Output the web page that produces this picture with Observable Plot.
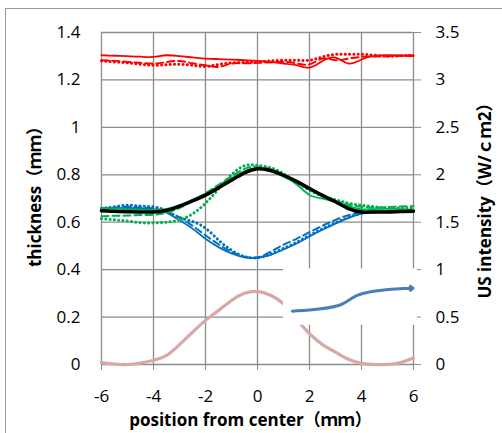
<!DOCTYPE html>
<html><head><meta charset="utf-8">
<script src="https://cdn.jsdelivr.net/npm/d3@7"></script>
<script src="https://cdn.jsdelivr.net/npm/@observablehq/plot@0.6"></script>
<style>
html,body{margin:0;padding:0;background:#fff;overflow:hidden;}
#wrap{position:relative;width:502px;height:433px;overflow:hidden;}
#frame{position:absolute;left:5px;top:8px;width:700px;height:700px;border-top:1.5px solid #9a9a9a;border-left:1.5px solid #9a9a9a;pointer-events:none;}
</style></head>
<body><div id="wrap"><div id="frame"></div></div>
<script>
const positions = [-6,-5.5,-5,-4.5,-4,-3.5,-3,-2.5,-2,-1.5,-1,-0.5,0,0.5,1,1.5,2,2.5,3,3.5,4,4.5,5,5.5,6];
const redSolid   = [1.304,1.302,1.300,1.298,1.297,1.304,1.300,1.295,1.290,1.288,1.286,1.283,1.280,1.276,1.269,1.262,1.252,1.280,1.294,1.269,1.286,1.301,1.304,1.303,1.300];
const redDashed  = [1.283,1.280,1.276,1.272,1.269,1.275,1.280,1.270,1.262,1.255,1.269,1.270,1.272,1.274,1.276,1.270,1.266,1.290,1.283,1.290,1.297,1.299,1.300,1.302,1.304];
const redDotted  = [1.280,1.276,1.272,1.266,1.262,1.264,1.266,1.262,1.257,1.265,1.272,1.274,1.276,1.280,1.283,1.283,1.283,1.297,1.308,1.308,1.308,1.304,1.300,1.302,1.304];
const greenSolid = [0.660,0.658,0.655,0.653,0.652,0.656,0.672,0.695,0.720,0.752,0.785,0.815,0.828,0.818,0.792,0.760,0.715,0.700,0.685,0.668,0.655,0.655,0.656,0.655,0.652];
const greenDashed= [0.625,0.627,0.628,0.630,0.632,0.640,0.660,0.690,0.722,0.758,0.793,0.825,0.835,0.825,0.800,0.770,0.740,0.710,0.690,0.675,0.665,0.662,0.664,0.666,0.668];
const greenDotted= [0.615,0.610,0.605,0.598,0.597,0.600,0.610,0.635,0.680,0.740,0.800,0.838,0.840,0.830,0.805,0.770,0.735,0.710,0.695,0.680,0.672,0.665,0.660,0.660,0.660];
const blueSolid  = [0.655,0.658,0.660,0.658,0.655,0.640,0.608,0.573,0.530,0.495,0.468,0.452,0.450,0.462,0.485,0.510,0.540,0.568,0.594,0.618,0.636,0.642,0.643,0.645,0.646];
const blueDashed = [0.660,0.662,0.665,0.662,0.658,0.645,0.620,0.585,0.545,0.507,0.475,0.455,0.452,0.475,0.505,0.530,0.558,0.585,0.610,0.630,0.642,0.645,0.646,0.647,0.648];
const blueDotted = [0.658,0.665,0.672,0.668,0.665,0.648,0.620,0.603,0.575,0.525,0.482,0.455,0.450,0.465,0.490,0.515,0.545,0.572,0.598,0.620,0.638,0.643,0.645,0.646,0.647];
const blackMean  = [0.648,0.646,0.644,0.643,0.643,0.650,0.668,0.690,0.714,0.745,0.777,0.808,0.825,0.818,0.798,0.772,0.742,0.713,0.686,0.657,0.643,0.643,0.643,0.645,0.646];
const usIntensity= [0.02,0.005,0.0,0.015,0.045,0.095,0.21,0.34,0.465,0.57,0.675,0.75,0.77,0.73,0.64,0.48,0.325,0.21,0.13,0.055,0.012,0.0,0.0,0.02,0.068];

const xTicks = [-6,-4,-2,0,2,4,6];
const yTicks = [0,0.2,0.4,0.6,0.8,1,1.2,1.4];
const rightTicks = [0,0.5,1,1.5,2,2.5,3,3.5];
const rightPerLeft = 2.5;

const insetBox = [{x1:1.0, x2:6.15, y1:0.165, y2:0.403}];
const arrowX = [1.34, 2.4, 3.3, 3.6, 3.95, 4.9, 5.6];
const arrowY = [0.225, 0.232, 0.250, 0.280, 0.300, 0.316, 0.320];
const arrowHead = [{x1:5.6, y1:0.320, x2:5.98, y2:0.322}];

const xLabel = "position from center（ｍｍ）";
const yLabel = "thickness（ｍｍ）";
const y2Label = "US intensity（Ｗ/ｃｍ2）";

const rows = arr => positions.map((x,i)=>({x, y: arr[i]}));
const dot = {strokeDasharray:"0.1,4.2", strokeLinecap:"round", strokeWidth:3};
const dash = {strokeDasharray:"7,4", strokeWidth:2};
const solid = {strokeWidth:1.8};
const gridColor = "#8c8c8c";

const chart = Plot.plot({
  width: 502, height: 433,
  marginLeft: 101, marginRight: 89, marginTop: 32, marginBottom: 69,
  x: {domain:[-6,6]},
  y: {domain:[0,1.4]},
  style: {fontFamily:"'Open Sans','Noto Sans CJK JP',sans-serif", fontSize:"17px", color:"#000", background:"transparent"},
  marks: [
    Plot.ruleY(yTicks, {stroke:gridColor, strokeWidth:1.3}),
    Plot.ruleX(xTicks, {stroke:gridColor, strokeWidth:1.3}),
    Plot.axisX({ticks:xTicks, tickFormat:d=>String(d), tickSize:6, tickPadding:19, stroke:gridColor, fill:"black", label:null, fontSize:17}),
    Plot.axisY({anchor:"left", ticks:yTicks, tickFormat:d=>String(+d.toFixed(1)), tickSize:0, tickPadding:21, fill:"black", label:null, fontSize:17}),
    Plot.axisY({anchor:"right", ticks:rightTicks.map(d=>d/rightPerLeft), tickFormat:d=>String(+(d*rightPerLeft).toFixed(1)), tickSize:7, tickPadding:15, stroke:gridColor, fill:"black", label:null, fontSize:17}),
    Plot.line(rows(usIntensity).map(d=>({x:d.x, y:d.y/rightPerLeft})), {x:"x", y:"y", stroke:"#d8a8a6", strokeWidth:3.2, curve:"natural"}),
    Plot.line(rows(redSolid), {x:"x", y:"y", stroke:"#ff0000", curve:"natural", ...solid}),
    Plot.line(rows(redDashed), {x:"x", y:"y", stroke:"#ff0000", curve:"natural", ...dash}),
    Plot.line(rows(redDotted), {x:"x", y:"y", stroke:"#ff0000", curve:"natural", ...dot}),
    Plot.line(rows(blueSolid), {x:"x", y:"y", stroke:"#0070c0", curve:"natural", ...solid}),
    Plot.line(rows(blueDashed), {x:"x", y:"y", stroke:"#0070c0", curve:"natural", ...dash}),
    Plot.line(rows(blueDotted), {x:"x", y:"y", stroke:"#0070c0", curve:"natural", ...dot}),
    Plot.line(rows(greenSolid), {x:"x", y:"y", stroke:"#00b050", curve:"natural", ...solid}),
    Plot.line(rows(greenDashed), {x:"x", y:"y", stroke:"#00b050", curve:"natural", ...dash}),
    Plot.line(rows(greenDotted), {x:"x", y:"y", stroke:"#00b050", curve:"natural", ...dot}),
    Plot.line(rows(blackMean), {x:"x", y:"y", stroke:"#000", strokeWidth:3.5, curve:"natural"}),
    Plot.rect(insetBox, {x1:"x1", x2:"x2", y1:"y1", y2:"y2", fill:"white"}),
    Plot.line(arrowX.map((x,i)=>({x, y:arrowY[i]})), {x:"x", y:"y", stroke:"#4a7ebb", strokeWidth:3, curve:"basis"}),
    Plot.arrow(arrowHead, {x1:"x1", y1:"y1", x2:"x2", y2:"y2", stroke:"#4a7ebb", strokeWidth:3, headLength:14, headAngle:75}),
    Plot.text([xLabel], {frameAnchor:"bottom", textAnchor:"middle", lineAnchor:"middle", dx:-7, dy:56, fontSize:17, fontWeight:"bold", fill:"black"}),
    Plot.text([yLabel], {frameAnchor:"left", textAnchor:"middle", lineAnchor:"middle", dx:-66, dy:-6, rotate:-90, fontSize:17, fontWeight:"bold", fill:"black"}),
    Plot.text([y2Label], {frameAnchor:"right", textAnchor:"middle", lineAnchor:"middle", dx:72, dy:-2, rotate:-90, fontSize:17, fontWeight:"bold", fill:"black"})
  ]
});
document.getElementById("wrap").appendChild(chart);
chart.style.position = "absolute"; chart.style.left = "0"; chart.style.top = "0";
</script>
</body></html>
